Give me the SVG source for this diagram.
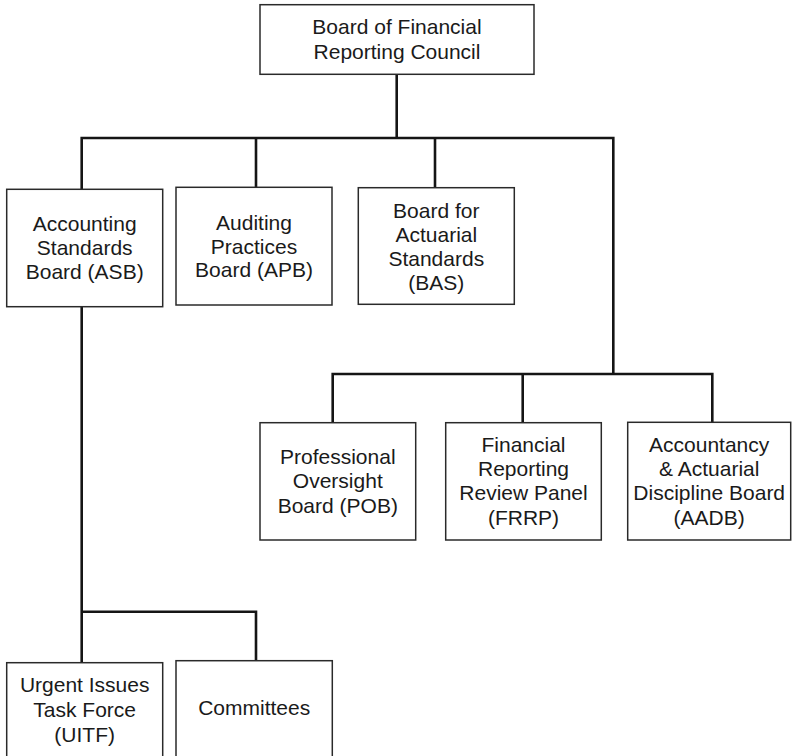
<svg xmlns="http://www.w3.org/2000/svg" width="792" height="756" viewBox="0 0 792 756">
<style>
.box{fill:#fff;stroke:#2a2a2a;stroke-width:1.5}
.con{fill:none;stroke:#151515;stroke-width:2.6;stroke-linejoin:miter;stroke-linecap:butt}
text{font-family:"Liberation Sans",Arial,Helvetica,sans-serif;font-size:21px;fill:#1a1a1a;text-anchor:middle}
</style>
<rect width="792" height="756" fill="#fff"/>
<g id="connectors">
<path class="con" d="M396.7,74.3 V138"/>
<path class="con" d="M81.7,189.3 V138 H613.3 V374"/>
<path class="con" d="M256,138 V187.3"/>
<path class="con" d="M435,138 V187.7"/>
<path class="con" d="M332.7,422.7 V374 H712.3 V422.3"/>
<path class="con" d="M522.7,374 V422.7"/>
<path class="con" d="M81.7,306.7 V662.7"/>
<path class="con" d="M81.7,611.7 H256 V660.7"/>
</g>
<g id="frc">
<rect class="box" x="260" y="4.7" width="274" height="69.6"/>
<text x="397" y="33.7">Board of Financial</text>
<text x="397" y="59">Reporting Council</text>
</g>
<g id="asb">
<rect class="box" x="6.7" y="189.3" width="156" height="117.4"/>
<text x="84.7" y="231">Accounting</text>
<text x="84.7" y="255">Standards</text>
<text x="84.7" y="279">Board (ASB)</text>
</g>
<g id="apb">
<rect class="box" x="176" y="187.3" width="156" height="117.7"/>
<text x="254" y="230">Auditing</text>
<text x="254" y="253.5">Practices</text>
<text x="254" y="277">Board (APB)</text>
</g>
<g id="bas">
<rect class="box" x="358.3" y="187.7" width="156" height="116.6"/>
<text x="436.3" y="217.5">Board for</text>
<text x="436.3" y="241.5">Actuarial</text>
<text x="436.3" y="265.5">Standards</text>
<text x="436.3" y="289.5">(BAS)</text>
</g>
<g id="pob">
<rect class="box" x="260" y="422.7" width="155.7" height="117.3"/>
<text x="337.8" y="463.5">Professional</text>
<text x="337.8" y="488">Oversight</text>
<text x="337.8" y="512.5">Board (POB)</text>
</g>
<g id="frrp">
<rect class="box" x="445.7" y="422.7" width="155.6" height="117.3"/>
<text x="523.5" y="451.7">Financial</text>
<text x="523.5" y="475.7">Reporting</text>
<text x="523.5" y="500">Review Panel</text>
<text x="523.5" y="525">(FRRP)</text>
</g>
<g id="aadb">
<rect class="box" x="627.7" y="422.3" width="163" height="117.7"/>
<text x="709.2" y="451.7">Accountancy</text>
<text x="709.2" y="475.7">&amp; Actuarial</text>
<text x="709.2" y="500">Discipline Board</text>
<text x="709.2" y="525">(AADB)</text>
</g>
<g id="uitf">
<rect class="box" x="6.7" y="662.7" width="156" height="100"/>
<text x="84.7" y="692.3">Urgent Issues</text>
<text x="84.7" y="716.7">Task Force</text>
<text x="84.7" y="741.7">(UITF)</text>
</g>
<g id="committees">
<rect class="box" x="176" y="660.7" width="156.3" height="102"/>
<text x="254.2" y="715">Committees</text>
</g>
</svg>
